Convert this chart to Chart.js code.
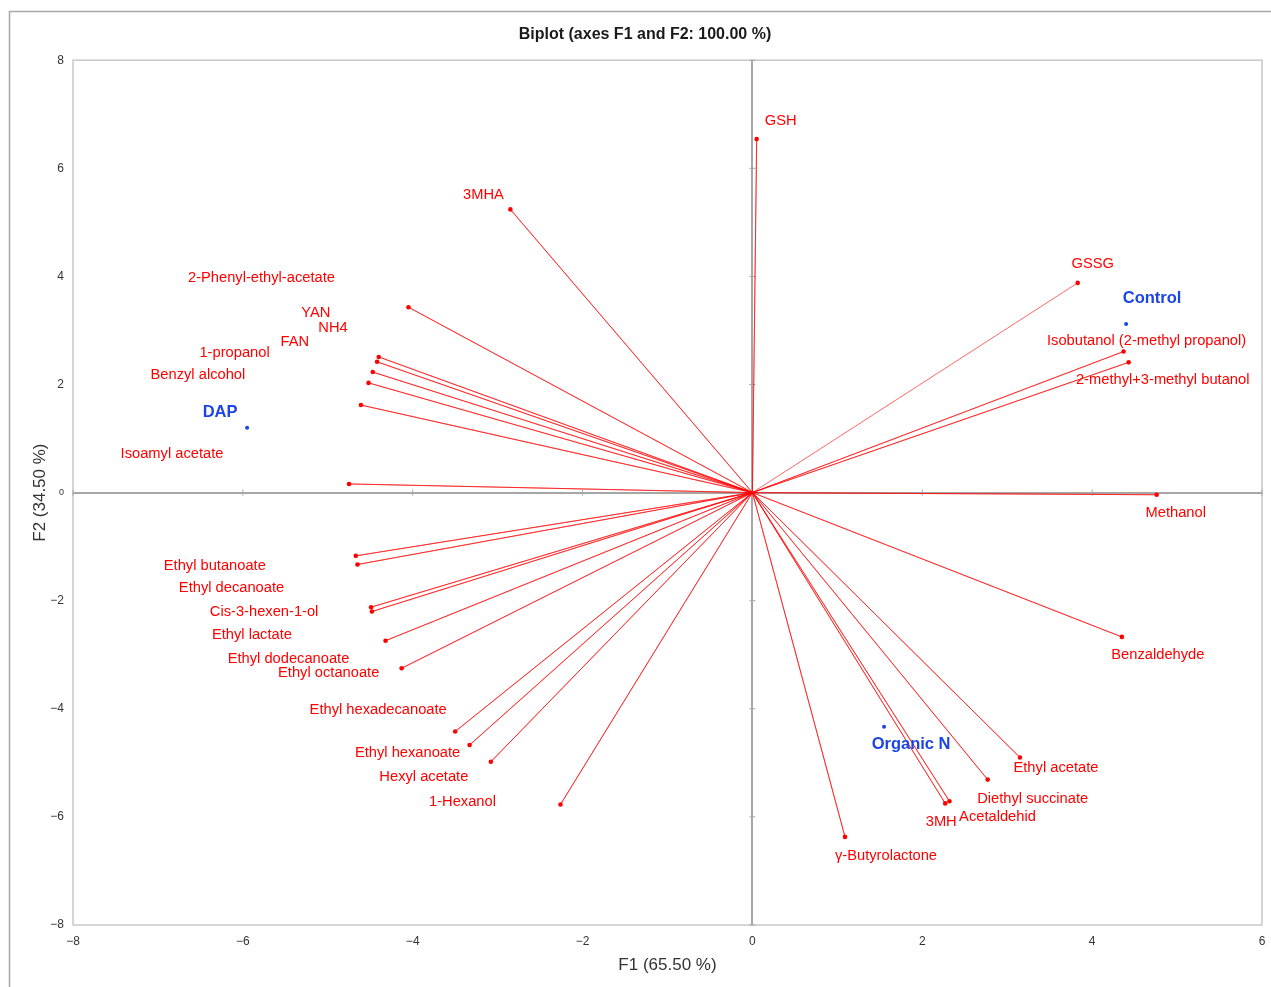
<!DOCTYPE html>
<html>
<head>
<meta charset="utf-8">
<script src="https://cdn.jsdelivr.net/npm/chart.js@4"></script>
<style>
  body { margin: 0; background: #fff; }
  #wrap { width: 1271px; height: 987px; }
</style>
</head>
<body>
<div id="wrap"><canvas id="biplot" width="1271" height="987"></canvas></div>
<script>
// variables (active) - F1 / F2 coordinates
const varNames = [
  'GSH', '3MHA', '2-Phenyl-ethyl-acetate', 'YAN', 'NH4', 'FAN', '1-propanol',
  'Benzyl alcohol', 'Isoamyl acetate', 'Ethyl butanoate', 'Ethyl decanoate',
  'Cis-3-hexen-1-ol', 'Ethyl lactate', 'Ethyl dodecanoate', 'Ethyl octanoate',
  'Ethyl hexadecanoate', 'Ethyl hexanoate', 'Hexyl acetate', '1-Hexanol',
  'γ-Butyrolactone', '3MH', 'Acetaldehid', 'Diethyl succinate', 'Ethyl acetate',
  'Benzaldehyde', 'Methanol', 'Isobutanol (2-methyl propanol)',
  '2-methyl+3-methyl butanol', 'GSSG'
];
const varF1 = [
  0.05, -2.85, -4.05, -4.40, -4.42, -4.47, -4.52,
  -4.61, -4.75, -4.67, -4.65,
  -4.49, -4.48, -4.32, -4.13,
  -3.50, -3.33, -3.08, -2.26,
  1.09, 2.27, 2.32, 2.77, 3.15,
  4.35, 4.76, 4.37,
  4.43, 3.83
];
const varF2 = [
  6.54, 5.24, 3.43, 2.51, 2.42, 2.23, 2.03,
  1.62, 0.16, -1.17, -1.33,
  -2.12, -2.20, -2.74, -3.25,
  -4.42, -4.67, -4.98, -5.77,
  -6.37, -5.75, -5.71, -5.31, -4.90,
  -2.67, -0.04, 2.61,
  2.41, 3.88
];

// observations
const obsNames = ['DAP', 'Control', 'Organic N'];
const obsF1 = [-5.95, 4.40, 1.55];
const obsF2 = [1.20, 3.12, -4.33];

// axis ticks
const tickValues = [-8, -6, -4, -2, 0, 2, 4, 6, 8];

// label placement (pixel offsets from the point, label centre)
const varLabelOffsets = [
  [24, -18], [-27, -14], [-147, -29], [-63, -44], [-44, -34], [-78, -30], [-134, -30],
  [-163, -30], [-177, -30], [-141, 10], [-126, 23],
  [-107, 5], [-120, 23], [-97, 18], [-73, 5],
  [-77, -22], [-62, 8], [-67, 15], [-98, -3],
  [41, 19], [-4, 19], [48, 16], [45, 19], [36, 11],
  [36, 18], [19, 18], [23, -11],
  [34, 18], [15, -19]
];
const obsLabelOffsets = [[-27, -15], [26, -26], [27, 18]];

const FONT = "'Liberation Sans', Arial, sans-serif";
const RED = '#ff0000';
const BLUE = '#1c44e6';

const varPoints = varNames.map((n, i) => ({ x: varF1[i], y: varF2[i] }));
const obsPoints = obsNames.map((n, i) => ({ x: obsF1[i], y: obsF2[i] }));
const vectorPath = varPoints.flatMap(p => [{ x: 0, y: 0 }, p]);

const fmtTick = v => String(v).replace('-', '\u2212');

// frame, zero-axis ticks and point labels
const decorPlugin = {
  id: 'decor',
  beforeDraw(chart) {
    const ctx = chart.ctx;
    const a = chart.chartArea;
    ctx.save();
    ctx.strokeStyle = '#a9a9a9';
    ctx.lineWidth = 1.5;
    ctx.beginPath();
    ctx.moveTo(9.5, chart.height);
    ctx.lineTo(9.5, 11.5);
    ctx.lineTo(chart.width, 11.5);
    ctx.stroke();
    ctx.strokeStyle = '#c8c8c8';
    ctx.lineWidth = 1.5;
    ctx.strokeRect(a.left, a.top, a.right - a.left, a.bottom - a.top);
    ctx.restore();
  },
  beforeDatasetsDraw(chart) {
    const ctx = chart.ctx;
    const xs = chart.scales.x, ys = chart.scales.y;
    const x0 = xs.getPixelForValue(0), y0 = ys.getPixelForValue(0);
    ctx.save();
    ctx.strokeStyle = '#a6a6a6';
    ctx.lineWidth = 1;
    ctx.beginPath();
    tickValues.forEach(v => {
      const py = ys.getPixelForValue(v);
      ctx.moveTo(x0 - 3, py); ctx.lineTo(x0 + 3, py);
      const px = xs.getPixelForValue(v);
      ctx.moveTo(px, y0 - 3); ctx.lineTo(px, y0 + 3);
    });
    ctx.stroke();
    ctx.restore();
  },
  afterDatasetsDraw(chart) {
    const ctx = chart.ctx;
    const xs = chart.scales.x, ys = chart.scales.y;
    ctx.save();
    ctx.textAlign = 'center';
    ctx.textBaseline = 'middle';
    ctx.fillStyle = RED;
    ctx.font = '14.7px ' + FONT;
    varNames.forEach((n, i) => {
      const px = xs.getPixelForValue(varF1[i]) + varLabelOffsets[i][0];
      const py = ys.getPixelForValue(varF2[i]) + varLabelOffsets[i][1];
      ctx.fillText(n, px, py);
    });
    ctx.fillStyle = BLUE;
    ctx.font = 'bold 16.5px ' + FONT;
    obsNames.forEach((n, i) => {
      const px = xs.getPixelForValue(obsF1[i]) + obsLabelOffsets[i][0];
      const py = ys.getPixelForValue(obsF2[i]) + obsLabelOffsets[i][1];
      ctx.fillText(n, px, py);
    });
    ctx.restore();
  }
};

const zeroGrid = {
  color: c => (c.tick && c.tick.value === 0 ? '#a6a6a6' : 'rgba(0,0,0,0)'),
  lineWidth: c => (c.tick && c.tick.value === 0 ? 2 : 0),
  drawTicks: false
};

new Chart(document.getElementById('biplot'), {
  type: 'scatter',
  data: {
    datasets: [
      {
        label: 'vectors',
        data: vectorPath,
        showLine: true,
        borderColor: 'rgba(255,0,0,0.6)',
        borderWidth: 1,
        pointRadius: 0
      },
      {
        label: 'Variables',
        data: varPoints,
        backgroundColor: RED,
        borderColor: RED,
        pointRadius: 2.3,
        borderWidth: 0
      },
      {
        label: 'Observations',
        data: obsPoints,
        backgroundColor: BLUE,
        borderColor: BLUE,
        pointRadius: 2,
        borderWidth: 0
      }
    ]
  },
  options: {
    responsive: false,
    animation: false,
    layout: { padding: { left: 28, right: 9, top: 0, bottom: 0 } },
    plugins: {
      legend: { display: false },
      tooltip: { enabled: false },
      title: {
        display: true,
        text: 'Biplot (axes F1 and F2: 100.00 %)',
        color: '#1a1a1a',
        font: { family: FONT, size: 16, weight: 'bold' },
        padding: { top: 25, bottom: 16 }
      }
    },
    scales: {
      x: {
        type: 'linear',
        min: -8,
        max: 6,
        afterFit: s => { s.height = 62; s.paddingLeft = 0; s.paddingRight = 0; },
        grid: zeroGrid,
        border: { display: false },
        ticks: {
          stepSize: 2,
          padding: 9,
          color: '#333',
          font: { family: FONT, size: 12 },
          callback: v => fmtTick(v)
        },
        title: {
          display: true,
          text: 'F1 (65.50 %)',
          color: '#333',
          font: { family: FONT, size: 17 },
          padding: { top: 0, bottom: 11 }
        }
      },
      y: {
        type: 'linear',
        min: -8,
        max: 8,
        afterFit: s => { s.width = 45; },
        grid: zeroGrid,
        border: { display: false },
        ticks: {
          stepSize: 2,
          padding: 9,
          color: '#333',
          font: c => ({ family: FONT, size: c.tick && c.tick.value === 0 ? 9 : 12 }),
          callback: v => fmtTick(v)
        },
        title: {
          display: true,
          text: 'F2 (34.50 %)',
          color: '#333',
          font: { family: FONT, size: 17 },
          padding: { top: 2, bottom: 0 }
        }
      }
    }
  },
  plugins: [decorPlugin]
});
</script>
</body>
</html>
